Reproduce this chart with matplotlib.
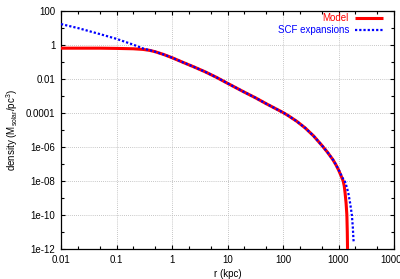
import matplotlib
matplotlib.use("Agg")
import matplotlib.pyplot as plt
from matplotlib.ticker import FixedLocator, FixedFormatter, NullFormatter

plt.rcParams['font.family'] = ['Liberation Sans', 'DejaVu Sans']
plt.rcParams['mathtext.default'] = 'regular'

# Model density profile (r in kpc, density in Msolar/pc^3)
model_r = [0.01, 0.05, 0.1, 0.2, 0.3, 0.4, 0.5, 0.7, 1, 1.58, 2.5, 4, 6.3, 10, 20,
           32, 50, 100, 126, 178, 251, 355, 500, 630, 794, 890, 1000, 1100, 1215,
           1270, 1316, 1370, 1415, 1440, 1455, 1465]
model_rho = [0.65, 0.65, 0.63, 0.60, 0.55, 0.48, 0.40, 0.28, 0.18, 0.095, 0.051,
             0.026, 0.0126, 0.0056, 1.7e-3, 7.8e-4, 3.5e-4, 1.07e-4, 6.8e-5,
             3.2e-5, 1.32e-5, 4.5e-6, 1.26e-6, 5.0e-7, 1.78e-7, 9.5e-8, 4.5e-8,
             2.2e-8, 1.0e-8, 5.0e-9, 1.9e-9, 5.0e-10, 1.0e-10, 1.0e-11, 1.0e-12,
             1.0e-14]

# SCF expansion
scf_r = [0.01, 0.02, 0.05, 0.1, 0.2, 0.3, 0.4, 0.5, 0.7, 1, 1.58, 2.5, 4, 6.3, 10,
         20, 32, 50, 100, 126, 178, 251, 355, 500, 630, 794, 890, 1000, 1100, 1200,
         1316, 1420, 1510, 1630, 1740, 1810, 1860, 1890]
scf_rho = [17.0, 10.0, 4.4, 2.3, 1.05, 0.63, 0.49, 0.40, 0.28, 0.18, 0.095, 0.051,
           0.026, 0.0126, 0.0056, 1.7e-3, 7.8e-4, 3.5e-4, 1.07e-4, 6.8e-5, 3.2e-5,
           1.32e-5, 4.5e-6, 1.26e-6, 5.0e-7, 1.78e-7, 9.5e-8, 5.0e-8, 2.5e-8,
           1.4e-8, 8.9e-9, 4.0e-9, 1.8e-9, 4.5e-10, 1.0e-10, 2.0e-11, 3.5e-12,
           2.5e-12]

x_ticks = [0.01, 0.1, 1, 10, 100, 1000, 10000]
x_tick_labels = ['0.01', '0.1', '1', '10', '100', '1000', '10000']
y_ticks = [1e-12, 1e-10, 1e-8, 1e-6, 1e-4, 1e-2, 1, 100]
y_tick_labels = ['1e-12', '1e-10', '1e-08', '1e-06', '0.0001', '0.01', '1', '100']

fig = plt.figure(figsize=(4.0, 2.79), dpi=100)
ax = fig.add_axes([61/400, 30/279, 333/400, 238/279])

ax.set_xscale('log')
ax.set_yscale('log')
ax.set_xlim(0.01, 10000)
ax.set_ylim(1e-12, 100)

ax.plot(model_r, model_rho, color='#ff0000', lw=2.2, solid_capstyle='butt',
        solid_joinstyle='round', label='Model', zorder=3)
ax.plot(scf_r, scf_rho, color='#0000ff', lw=1.6, linestyle=(0, (1, 0.9)),
        dash_capstyle='butt', label='SCF expansions', zorder=4)

fs = 7
ax.xaxis.set_major_locator(FixedLocator(x_ticks))
ax.xaxis.set_major_formatter(FixedFormatter(x_tick_labels))
xminor = [m * 10.0**e for e in range(-2, 4) for m in (2, 5)]
ax.xaxis.set_minor_locator(FixedLocator(xminor))
ax.xaxis.set_minor_formatter(NullFormatter())

ax.yaxis.set_major_locator(FixedLocator(y_ticks))
ax.yaxis.set_major_formatter(FixedFormatter(y_tick_labels))
yminor = [10.0**e for e in range(-11, 2, 2)]
ax.yaxis.set_minor_locator(FixedLocator(yminor))
ax.yaxis.set_minor_formatter(NullFormatter())

ax.tick_params(which='both', direction='in', top=True, right=True,
               width=0.8, labelsize=fs, colors='black')
ax.tick_params(which='major', length=3, pad=4)
ax.tick_params(which='minor', length=2)

for s in ax.spines.values():
    s.set_linewidth(0.9)
    s.set_color('black')

ax.grid(True, which='major', color='#b4b4b4', linestyle=(0, (1, 1.5)), lw=0.6)
ax.set_axisbelow(True)

ax.set_xlabel('r (kpc)', fontsize=fs, labelpad=3)
ax.set_ylabel('density (M$_{solar}$/pc$^3$)', fontsize=fs, labelpad=4)

leg = ax.legend(loc='upper right', bbox_to_anchor=(0.967, 0.99), frameon=False,
                fontsize=fs, markerfirst=False, labelcolor='linecolor',
                handlelength=2.9, handletextpad=0.6, labelspacing=0.2,
                borderpad=0, borderaxespad=0)

fig.savefig('out.png', dpi=100)
